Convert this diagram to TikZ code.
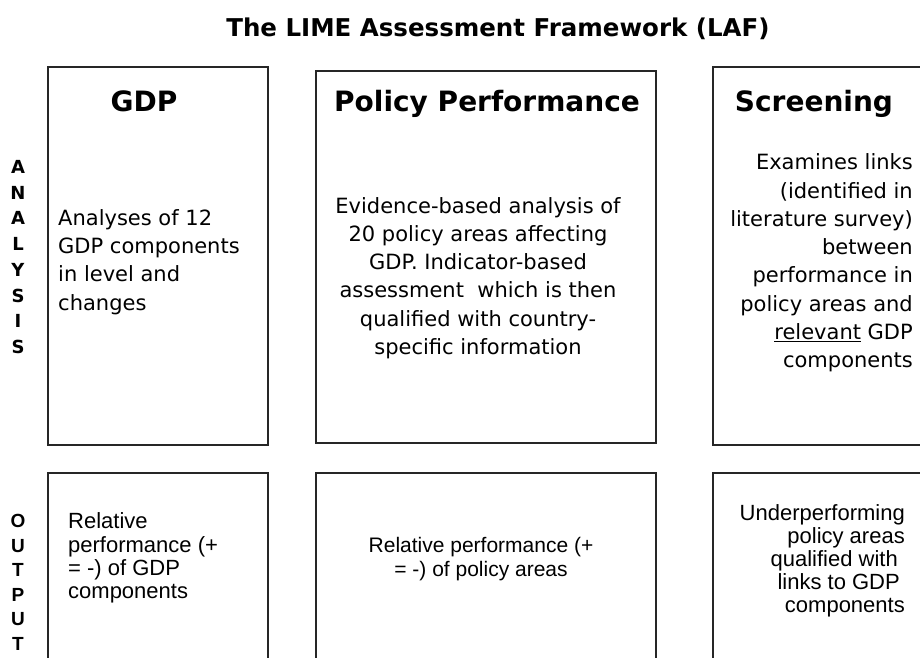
\documentclass[tikz,border=0pt]{standalone}
\usepackage{fontspec}
\setmainfont{DejaVu Sans}
\newfontfamily\arialfont{Liberation Sans}
\usepackage{tikz}

\begin{document}
\begin{tikzpicture}
        [x=1pt, y=-1pt,
        box/.style={draw=black!85, line width=1.3pt, inner sep=0pt, outer sep=0pt},
        head/.style={font=\fontsize{28}{30}\selectfont\bfseries, inner sep=0pt, anchor=base},
        body/.style={font=\fontsize{21}{28.3}\selectfont, inner sep=0pt},
        outtext/.style={font=\arialfont\fontsize{21}{23.3}\selectfont, inner sep=0pt},
        sideletter/.style={font=\fontsize{18}{18}\selectfont\bfseries, inner sep=0pt},
        outletter/.style={font=\arialfont\fontsize{19}{19}\selectfont\bfseries, inner sep=0pt}]
        \useasboundingbox (0,0) rectangle (920,657);
        \clip (0,0) rectangle (920,657);

        \node[font=\fontsize{24.5}{27}\selectfont\bfseries, inner sep=0pt] (title) at (498,29) {The LIME Assessment Framework (LAF)};

        % analysis row
        \node[box, minimum width=220pt, minimum height=378pt] (gdpbox) at (158,256) {};
        \node[box, minimum width=340pt, minimum height=372pt] (policybox) at (486,257) {};
        \node[box, minimum width=247pt, minimum height=378pt] (screenbox) at (836.5,256) {};

        \node[head] (gdphead) at (144,111) {GDP};
        \node[head] (policyhead) at (487,111) {Policy Performance};
        \node[head] (screenhead) at (814,111) {Screening};

        \node[body, align=left, anchor=west] (gdptext) at (58,262) {Analyses of 12\\GDP components\\in level and\\changes};
        \node[body, align=center] (policytext) at (478,278) {Evidence-based analysis of\\20 policy areas affecting\\GDP. Indicator-based\\assessment\ \ which is then\\qualified with country-\\specific information};
        \node[body, align=right, anchor=east] (screentext) at (913,263) {Examines links\\(identified in\\literature survey)\\between\\performance in\\policy areas and\\\underline{relevant} GDP\\components};

        % output row
        \node[box, minimum width=220pt, minimum height=247pt] (gdpout) at (158,596.5) {};
        \node[box, minimum width=340pt, minimum height=247pt] (policyout) at (486,596.5) {};
        \node[box, minimum width=247pt, minimum height=247pt] (screenout) at (836.5,596.5) {};

        \node[outtext, font=\arialfont\fontsize{22}{23.3}\selectfont, align=left, anchor=west] (gdpouttext) at (68,558) {Relative\\performance (+\\= -) of GDP\\components};
        \node[outtext, align=center] (policyouttext) at (481,559) {Relative performance (+\\= -) of policy areas};
        \node[outtext, font=\arialfont\fontsize{22}{23}\selectfont, align=right, anchor=east] (screenouttext) at (905,561) {Underperforming\\policy areas\\qualified with\hspace*{7pt}\mbox{}\\links to GDP\hspace*{5pt}\mbox{}\\components};

        % side labels
        \foreach \l [count=\i] in {A,N,A,L,Y,S,I,S}
            \node[sideletter] (ana\i) at (18,{167+25.7*(\i-1)}) {\l};
        \foreach \l [count=\i] in {O,U,T,P,U,T}
            \node[outletter] (out\i) at (18,{521+24.6*(\i-1)}) {\l};
    \end{tikzpicture}
\end{document}
